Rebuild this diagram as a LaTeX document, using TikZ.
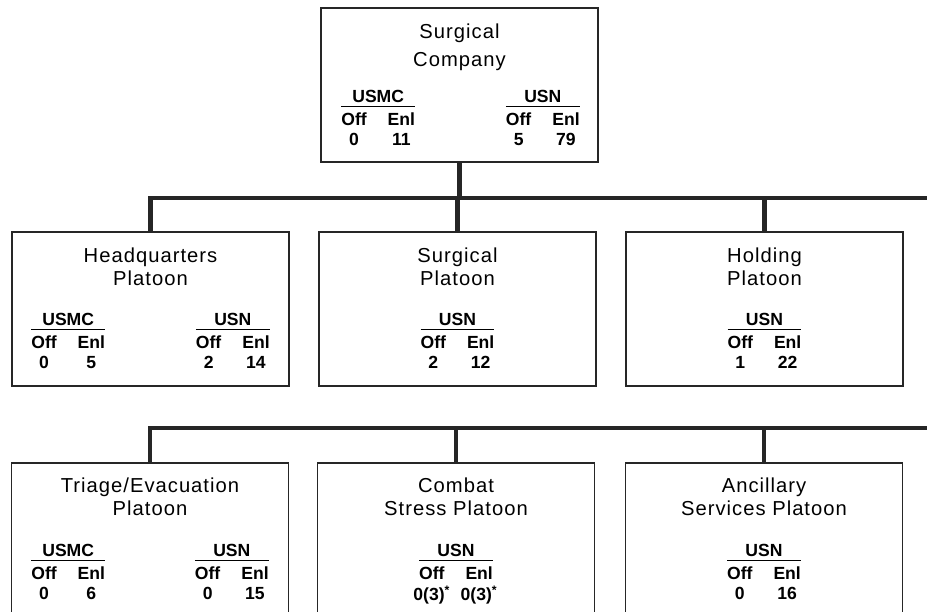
\documentclass[tikz,border=0pt]{standalone}
\usepackage{fontspec}
\setmainfont{Liberation Sans}
\newfontfamily\ttlfont[LetterSpace=5]{Liberation Sans}
\usepackage{tikz}

\setlength{\arrayrulewidth}{0.6pt}
\newcommand{\svc}[3]{%
  \begin{tabular}{@{}c@{\hspace{0.42cm}}c@{}}
    \multicolumn{2}{c}{#1}\\[-1.5pt]
    \hline
    \noalign{\vskip2.5pt}
    Off & Enl\\
    \makebox[0pt]{#2} & \makebox[0pt]{#3}
  \end{tabular}}

\begin{document}
\begin{tikzpicture}[x=0.02cm, y=-0.02cm,
    unit/.style={draw=black!85, line width=1.1pt, minimum width=5.54cm, minimum height=3.08cm, inner sep=0pt},
    ttl/.style={align=center, inner sep=0pt, font=\ttlfont\fontsize{11.5}{13}\selectfont},
    tbl/.style={inner sep=0pt, font=\bfseries\fontsize{10}{11.5}\selectfont},
    link/.style={draw=black!85, line width=2.3pt}]

    \useasboundingbox (0,0) rectangle (927,612);
    \clip (0,0) rectangle (927,612);

    \node[unit] (co) at (459.5,85) {};
    \node[ttl, font=\ttlfont\fontsize{11.5}{16}\selectfont] (co-t) at (459.5,47.5) {Surgical\\Company};
    \node[tbl, anchor=north west] (co-mc) at (341,88) {\svc{USMC}{0}{11}};
    \node[tbl, anchor=north east] (co-sn) at (580,88) {\svc{USN}{5}{79}};

    \node[unit] (hq) at (150.5,309) {};
    \node[ttl] (hq-t) at (150.5,266.5) {Headquarters\\Platoon};
    \node[tbl, anchor=north west] (hq-mc) at (31,311) {\svc{USMC}{0}{5}};
    \node[tbl, anchor=north east] (hq-sn) at (270,311) {\svc{USN}{2}{14}};

    \node[unit] (sp) at (457.5,309) {};
    \node[ttl] (sp-t) at (457.5,266.5) {Surgical\\Platoon};
    \node[tbl, anchor=north] (sp-sn) at (457.5,311) {\svc{USN}{2}{12}};

    \node[unit] (hp) at (764.5,309) {};
    \node[ttl] (hp-t) at (764.5,266.5) {Holding\\Platoon};
    \node[tbl, anchor=north] (hp-sn) at (764.5,311) {\svc{USN}{1}{22}};

    \node[unit] (te) at (150,540) {};
    \node[ttl] (te-t) at (150,497) {Triage/Evacuation\\Platoon};
    \node[tbl, anchor=north west] (te-mc) at (31,542) {\svc{USMC}{0}{6}};
    \node[tbl, anchor=north east] (te-sn) at (269,542) {\svc{USN}{0}{15}};

    \node[unit] (cs) at (456,540) {};
    \node[ttl] (cs-t) at (456,497) {Combat\\Stress Platoon};
    \node[tbl, anchor=north] (cs-sn) at (456,542) {\svc{USN}{0(3)\textsuperscript{*}}{0(3)\textsuperscript{*}}};

    \node[unit] (as) at (764,540) {};
    \node[ttl] (as-t) at (764,497) {Ancillary\\Services Platoon};
    \node[tbl, anchor=north] (as-sn) at (764,542) {\svc{USN}{0}{16}};

    \coordinate (bus1) at (940,198);
    \coordinate (bus2) at (940,428);
    \draw[link] (co.south) -- (co.south |- bus1);
    \draw[link] (hq.north) |- (bus1);
    \draw[link] (sp.north) -- (sp.north |- bus1);
    \draw[link] (hp.north) -- (hp.north |- bus1);
    \draw[link] (te.north) |- (bus2);
    \draw[link] (cs.north) -- (cs.north |- bus2);
    \draw[link] (as.north) -- (as.north |- bus2);
\end{tikzpicture}
\end{document}
